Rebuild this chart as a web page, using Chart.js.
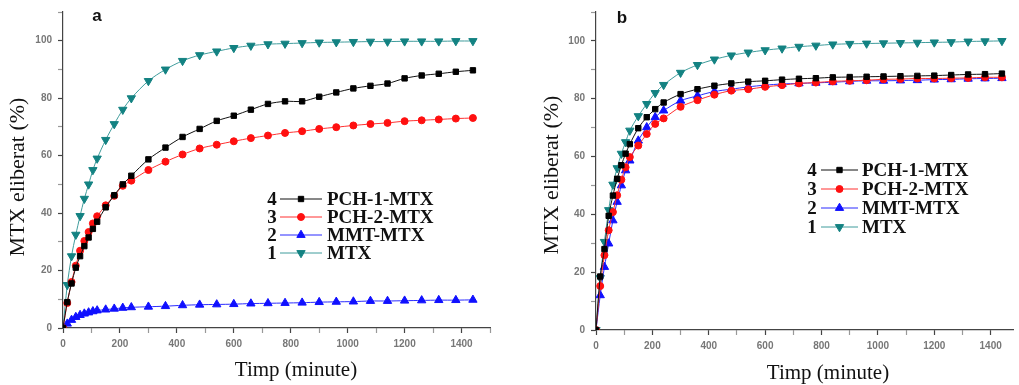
<!DOCTYPE html>
<html>
<head>
<meta charset="utf-8">
<script src="https://cdn.jsdelivr.net/npm/chart.js@4"></script>
<style>
  body { margin: 0; background: #fff; }
  canvas { position: absolute; top: 0; }
  #chartA { left: 0; }
  #chartB { left: 530px; }
</style>
</head>
<body>
<canvas id="chartA" width="505" height="385"></canvas>
<canvas id="chartB" width="489" height="385"></canvas>
<script>
// Timp (minute)
const times = [0, 15, 30, 45, 60, 75, 90, 105, 120, 150, 180, 210, 240, 300, 360, 420, 480,
  540, 600, 660, 720, 780, 840, 900, 960, 1020, 1080, 1140, 1200, 1260, 1320, 1380, 1440];

const seriesNames = ["PCH-1-MTX", "PCH-2-MTX", "MMT-MTX", "MTX"];
const seriesNumbers = ["4", "3", "2", "1"];

// panel a
const aPch1 = [0, 9, 15.5, 21, 25, 28.5, 31.5, 34.5, 37, 42, 46.2, 50, 53, 58.7, 62.8, 66.5, 69.3,
  72.1, 73.9, 76, 78, 78.9, 78.9, 80.5, 82, 83.4, 84.3, 85.1, 86.9, 87.9, 88.5, 89.2, 89.7];
const aPch2 = [0, 8.7, 16, 21.7, 26.9, 30.3, 33.4, 36.4, 38.9, 42.7, 46, 49.5, 51.3, 55, 57.9, 60.4, 62.5,
  63.8, 65, 66.1, 67, 67.9, 68.5, 69.3, 69.9, 70.5, 71, 71.4, 72, 72.3, 72.6, 72.9, 73.1];
const aMmt = [0, 1.5, 2.8, 3.8, 4.5, 5, 5.4, 5.8, 6.1, 6.4, 6.7, 7, 7.2, 7.4, 7.6, 7.9, 8.1,
  8.2, 8.3, 8.5, 8.6, 8.7, 8.8, 9, 9.1, 9.2, 9.4, 9.4, 9.5, 9.6, 9.7, 9.7, 9.8];
const aMtx = [0, 15, 25, 32.5, 39, 45, 50, 55, 59, 65.5, 71, 76, 80, 86, 90, 93, 95,
  96.3, 97.5, 98.3, 98.8, 99, 99.2, 99.4, 99.5, 99.6, 99.7, 99.7, 99.8, 99.8, 99.8, 99.9, 99.9];

// panel b
const bPch1 = [0, 18.5, 28, 39.5, 46.5, 52.3, 57, 61, 64.3, 69.8, 73.6, 76.4, 78.7, 81.6, 83.3, 84.5, 85.3,
  85.9, 86.2, 86.6, 86.9, 87.1, 87.4, 87.5, 87.6, 87.7, 87.8, 87.9, 88, 88.2, 88.4, 88.5, 88.7];
const bPch2 = [0, 15.2, 25.9, 34.5, 40.8, 46.6, 52, 56.3, 59.8, 63.8, 67.8, 71.3, 73.2, 77.2, 79.5, 81.4, 82.8,
  83.3, 84.1, 84.7, 85.3, 85.6, 86, 86.2, 86.4, 86.7, 86.8, 87, 87, 87.1, 87.2, 87.4, 87.4];
const bMmt = [0, 12, 21.8, 29.9, 37.9, 44.3, 50, 55.2, 58.6, 65.5, 70.1, 73.6, 75.9, 79.3, 81, 82.5, 83.3,
  84.1, 84.7, 85.1, 85.3, 85.5, 85.7, 86, 86.2, 86.2, 86.3, 86.4, 86.6, 86.7, 86.9, 87, 87.1];
const bMtx = [0, 18, 30.5, 41.5, 50.3, 56, 61, 65, 69, 74, 78.2, 82, 84.8, 89, 91.7, 93.6, 95,
  96, 96.8, 97.4, 98, 98.4, 98.8, 99, 99.1, 99.2, 99.3, 99.4, 99.5, 99.6, 99.8, 99.9, 100];

const xTitle = "Timp (minute)";
const yTitle = "MTX eliberat (%)";

// stil pentru fiecare serie (aceeasi ordine ca seriesNames)
const styles = [
  { line: "#111111", fill: "#000000", point: "rect", radius: 3.8, rotation: 0 },
  { line: "#ff3030", fill: "#ff1010", point: "circle", radius: 3.5, rotation: 0 },
  { line: "#2a2aff", fill: "#1010ff", point: "triangle", radius: 4.8, rotation: 0 },
  { line: "#3f9c9c", fill: "#138282", point: "triangle", radius: 4.8, rotation: 180 },
];

function makeDatasets(lists) {
  return lists.map((vals, i) => ({
    label: seriesNames[i],
    data: times.map((t, k) => ({ x: t, y: vals[k] })),
    borderColor: styles[i].line,
    backgroundColor: styles[i].fill,
    pointBackgroundColor: styles[i].fill,
    pointBorderColor: styles[i].fill,
    pointStyle: styles[i].point,
    pointRotation: styles[i].rotation,
    pointRadius: styles[i].radius,
    borderWidth: 1,
    tension: 0.3,
  }));
}

// legenda cu numere, litera panoului si titlurile axelor
const overlay = {
  id: "overlay",
  afterDatasetsDraw(chart, args, o) {
    const ctx = chart.ctx;
    ctx.save();
    ctx.fillStyle = "#111";
    ctx.textBaseline = "middle";
    ctx.textAlign = "center";
    ctx.font = "21px 'Liberation Serif', 'Times New Roman', serif";
    ctx.fillText(xTitle, o.titleX, o.titleY);

    ctx.save();
    ctx.translate(o.yTitleX, o.yTitleY);
    ctx.rotate(-Math.PI / 2);
    ctx.font = "22px 'Liberation Serif', 'Times New Roman', serif";
    ctx.fillText(yTitle, 0, 0);
    ctx.restore();

    ctx.font = "bold 17px 'Liberation Sans', Arial, sans-serif";
    ctx.fillText(o.letter, o.letterX, o.letterY);

    ctx.font = "bold 19px 'Liberation Serif', 'Times New Roman', serif";
    seriesNames.forEach((name, i) => {
      const y = o.legY + i * o.legGap;
      ctx.fillStyle = "#111";
      ctx.textAlign = "center";
      ctx.fillText(seriesNumbers[i], o.numX, y + 1);
      ctx.strokeStyle = styles[i].line;
      ctx.lineWidth = 1;
      ctx.beginPath();
      ctx.moveTo(o.lineX0, y);
      ctx.lineTo(o.lineX1, y);
      ctx.stroke();
      ctx.fillStyle = styles[i].fill;
      ctx.strokeStyle = styles[i].fill;
      Chart.helpers.drawPoint(ctx, {
        pointStyle: styles[i].point,
        radius: styles[i].radius,
        rotation: styles[i].rotation,
        borderWidth: 1,
      }, (o.lineX0 + o.lineX1) / 2, y);
      ctx.fillStyle = "#111";
      ctx.textAlign = "left";
      ctx.fillText(name, o.textX, y + 1);
    });
    ctx.restore();
  },
};

function makeChart(id, lists, cfg) {
  const ctx = document.getElementById(id).getContext("2d");
  new Chart(ctx, {
    type: "line",
    data: { datasets: makeDatasets(lists) },
    plugins: [overlay],
    options: {
      responsive: false,
      animation: false,
      devicePixelRatio: 1,
      layout: { padding: { top: cfg.padTop, right: cfg.padRight, left: 0, bottom: 0 } },
      plugins: {
        legend: { display: false },
        tooltip: { enabled: false },
        overlay: cfg.overlay,
      },
      scales: {
        x: {
          type: "linear",
          min: 0,
          max: cfg.xMax,
          afterFit: (s) => { s.height = cfg.xHeight; },
          afterBuildTicks: (s) => {
            const t = [];
            for (let v = 0; v <= cfg.xMax; v += 100) t.push({ value: v });
            s.ticks = t;
          },
          ticks: {
            callback: (v) => (v % 200 === 0 ? v : ""),
            color: "#777",
            font: { size: 10, weight: "bold", family: "'Liberation Sans', Arial, sans-serif" },
            padding: 5,
            maxRotation: 0,
            autoSkip: false,
          },
          grid: {
            drawOnChartArea: false, tickLength: 5, tickWidth: 1.2,
            color: (c) => (c.tick && c.tick.value % 200 === 0 ? "#444" : "#999"),
          },
          border: { display: true, color: "#444", width: 1.2 },
        },
        y: {
          min: 0,
          max: 110,
          afterFit: (s) => { s.width = cfg.yWidth; },
          afterBuildTicks: (s) => {
            const t = [];
            for (let v = 0; v <= 110; v += 10) t.push({ value: v });
            s.ticks = t;
          },
          ticks: {
            callback: (v) => (v % 20 === 0 && v <= 100 ? v : ""),
            color: "#777",
            font: { size: 10, weight: "bold", family: "'Liberation Sans', Arial, sans-serif" },
            padding: 6,
            autoSkip: false,
          },
          grid: {
            drawOnChartArea: false, tickLength: 5, tickWidth: 1.2,
            color: (c) => (c.tick && c.tick.value % 20 === 0 ? "#444" : "#999"),
          },
          border: { display: true, color: "#444", width: 1.2 },
        },
      },
    },
  });
}

makeChart("chartA", [aPch1, aPch2, aMmt, aMtx], {
  padTop: 9, padRight: 15, xMax: 1500, xHeight: 57, yWidth: 63,
  overlay: { letter: "a", letterX: 97, letterY: 16, numX: 272, lineX0: 280, lineX1: 322,
    textX: 327, legY: 199, legGap: 18, titleX: 296, titleY: 370, yTitleX: 18, yTitleY: 177 },
});

makeChart("chartB", [bPch1, bPch2, bMmt, bMtx], {
  padTop: 11, padRight: 0, xMax: 1480, xHeight: 55, yWidth: 66,
  overlay: { letter: "b", letterX: 92, letterY: 18, numX: 282, lineX0: 291, lineX1: 328,
    textX: 332, legY: 170, legGap: 19, titleX: 298, titleY: 373, yTitleX: 22, yTitleY: 175 },
});
</script>
</body>
</html>
